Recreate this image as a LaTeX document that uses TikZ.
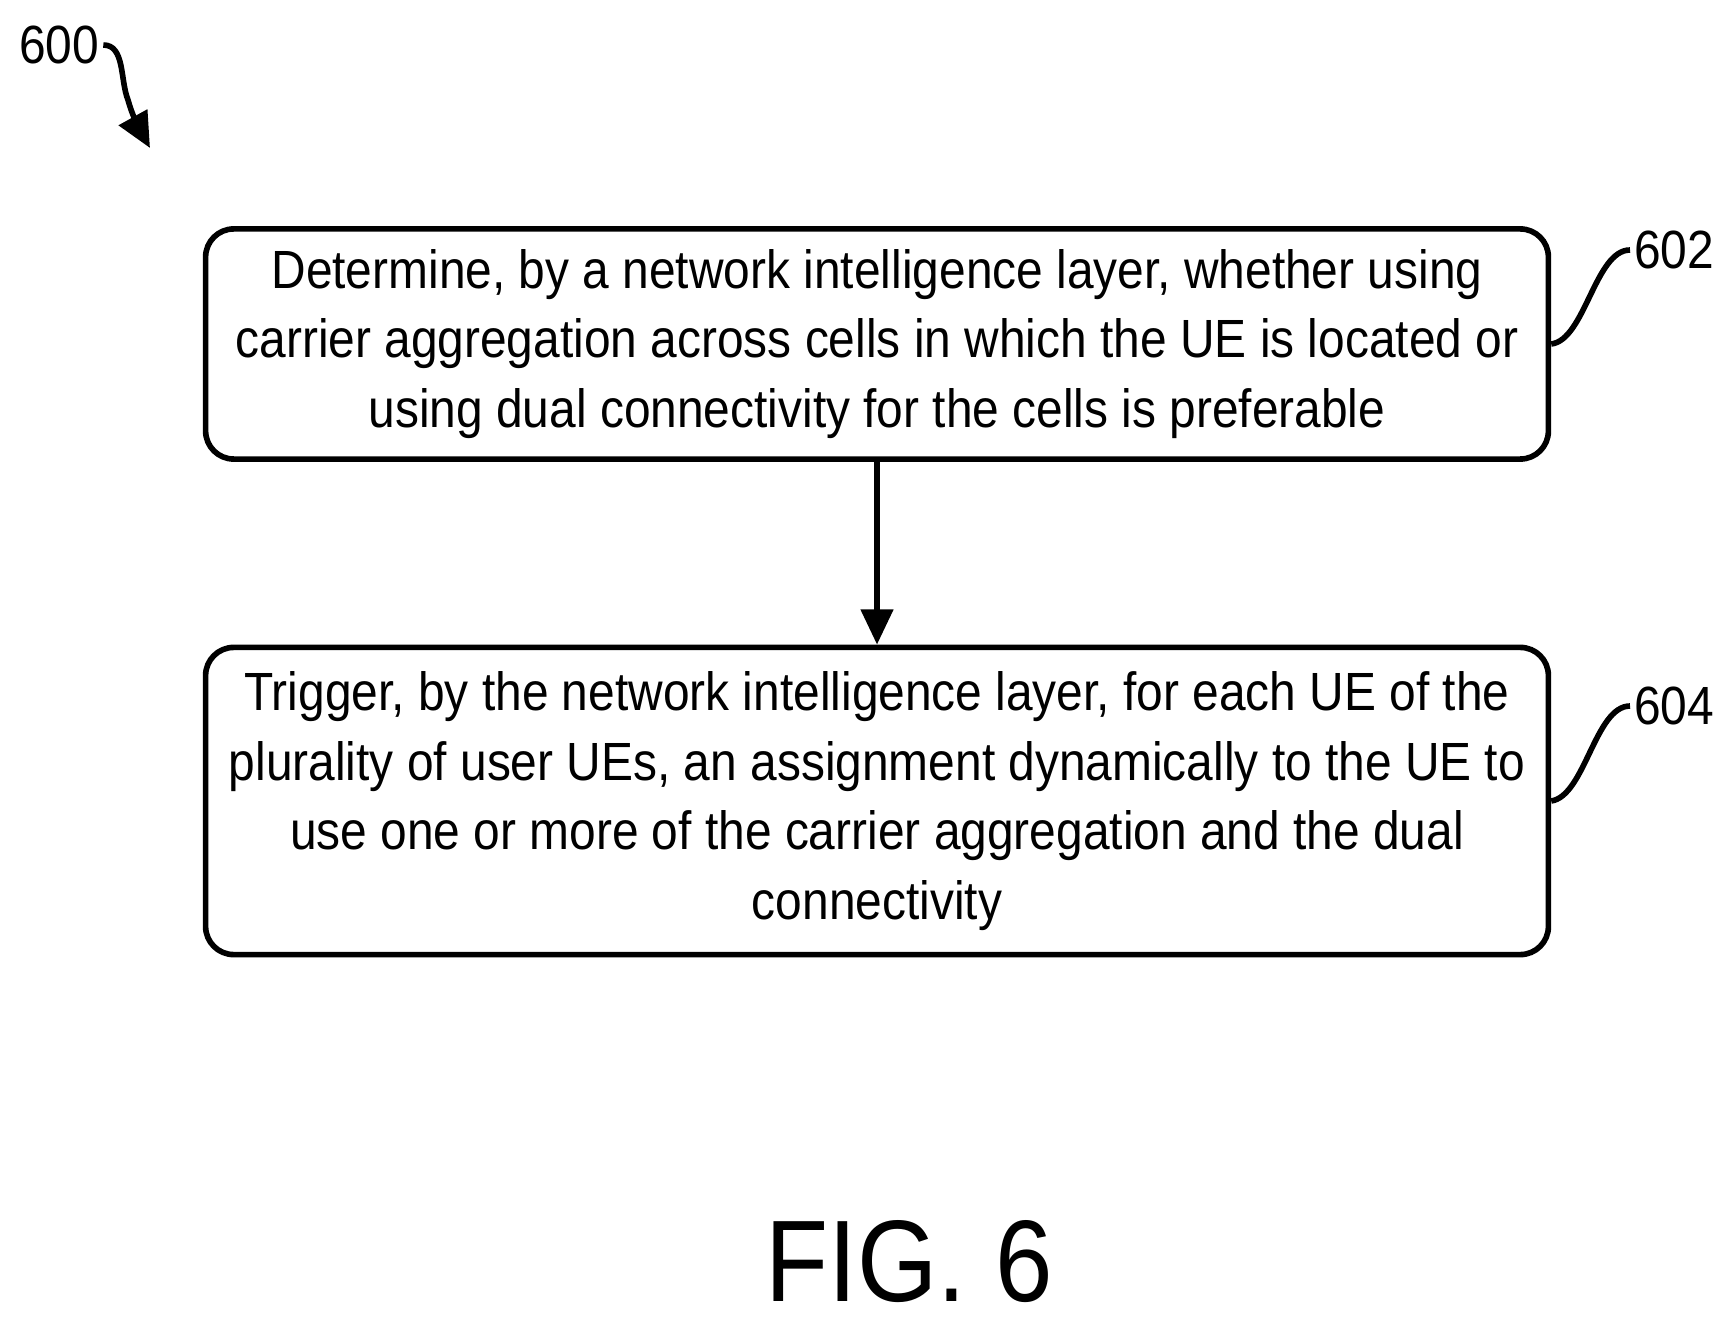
\documentclass[tikz,border=0pt]{standalone}
\usepackage{fontspec}
\setmainfont[FakeStretch=0.89]{Liberation Sans}
\usetikzlibrary{positioning, arrows.meta}

\begin{document}
\begin{tikzpicture}[
      x=0.01cm, y=-0.01cm,
      stepbox/.style={rectangle, rounded corners=8pt, draw, line width=1.6pt,
        minimum width=13.42cm, align=center,
        font=\fontsize{15.3}{19.8}\selectfont},
      arrow/.style={-{Triangle[length=10pt, width=9pt]}, line width=1.6pt},
      reflabel/.style={font=\fontsize{15.3}{19.8}\selectfont, inner sep=1pt}
    ]
      \useasboundingbox (0,0) rectangle (1728,1325);

      % Steps
      \node[stepbox, minimum height=2.3cm] (determine) at (877,344)
        {Determine, by a network intelligence layer, whether using\\
         carrier aggregation across cells in which the UE is located or\\
         using dual connectivity for the cells is preferable};
      \node[stepbox, minimum height=3.07cm] (trigger) at (877,801)
        {Trigger, by the network intelligence layer, for each UE of the\\
         plurality of user UEs, an assignment dynamically to the UE to\\
         use one or more of the carrier aggregation and the dual\\
         connectivity};

      % Connection
      \draw[arrow] (determine) -- (trigger);

      % Reference numerals
      \node[reflabel, anchor=west] (n602) at (1630,250) {602};
      \node[reflabel, anchor=west] (n604) at (1630,706) {604};
      \draw[line width=1.6pt] (determine.east)
        .. controls (1585,340) and (1595,250) .. (n602.west);
      \draw[line width=1.6pt] (trigger.east)
        .. controls (1585,796) and (1595,706) .. (n604.west);

      % Figure numeral
      \node[reflabel, anchor=west] (n600) at (15,45) {600};
      \draw[arrow, line width=1.6pt] (n600.east)
        .. controls (125,45) and (120,80) .. (128,100)
        .. controls (132,115) and (140,130) .. (150,148);

      % Caption
      \node[font=\fontsize{33}{40}\selectfont] (fig) at (909,1262) {FIG. 6};
\end{tikzpicture}
\end{document}
